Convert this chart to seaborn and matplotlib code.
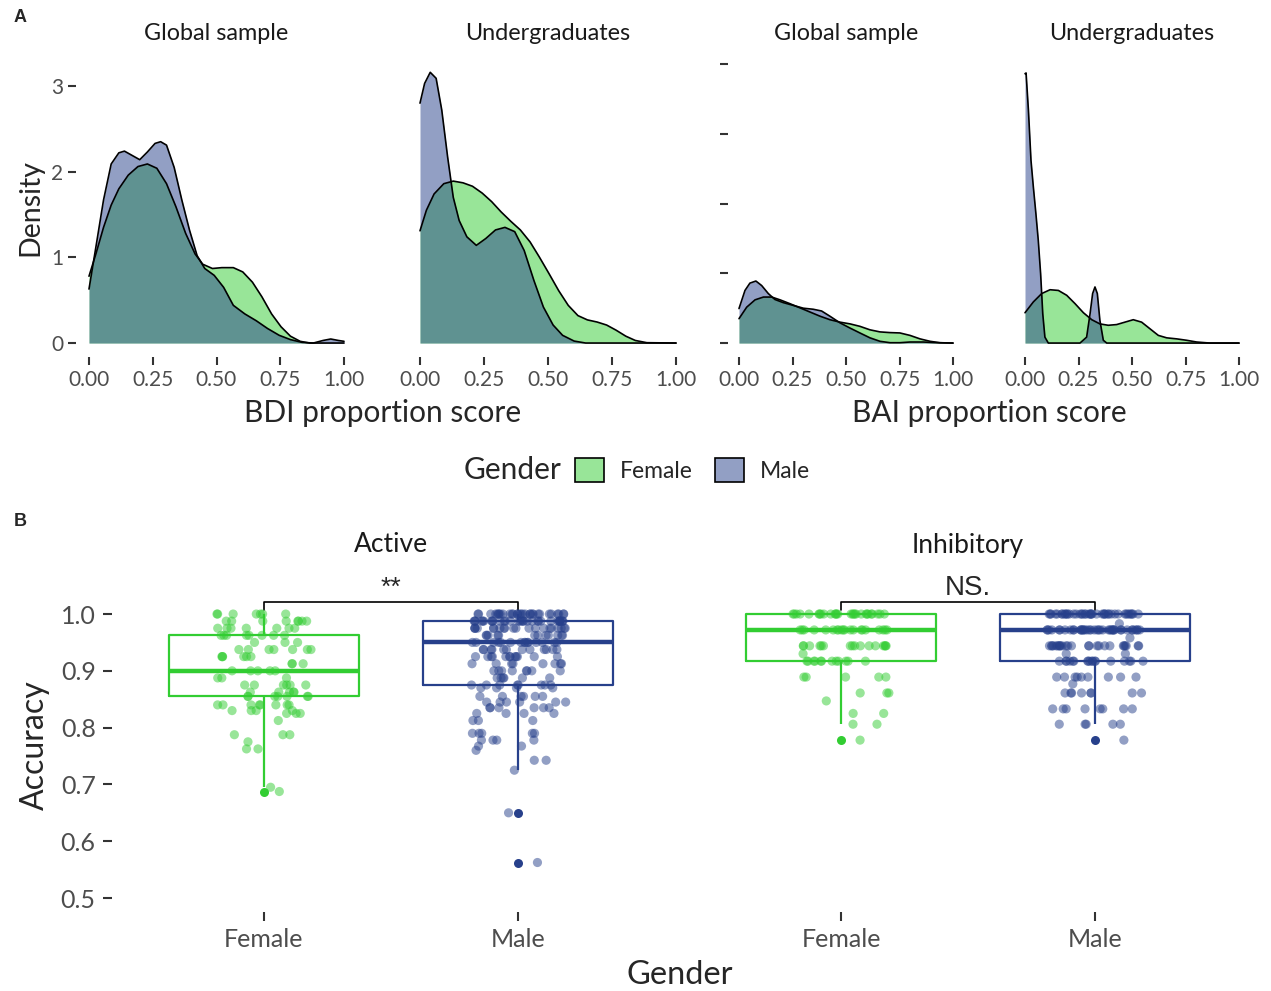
import numpy as np
import pandas as pd
import matplotlib
matplotlib.use("Agg")
import matplotlib.pyplot as plt
from matplotlib.patches import Patch
import seaborn as sns

# ---------------- Panel A: score densities ----------------
# BDI, global sample
bdi_global_x_f = [0.0, 0.027, 0.057, 0.087, 0.117, 0.154, 0.192, 0.229, 0.266, 0.304, 0.341,
                  0.379, 0.416, 0.446, 0.484, 0.521, 0.566, 0.603, 0.641, 0.678, 0.716, 0.753,
                  0.79, 0.828, 0.865, 1.0]
bdi_global_f = [0.78, 1.04, 1.35, 1.61, 1.80, 1.96, 2.06, 2.09, 2.04, 1.86, 1.59,
                1.28, 1.04, 0.92, 0.87, 0.88, 0.88, 0.83, 0.71, 0.54, 0.34, 0.19,
                0.08, 0.02, 0.0, 0.0]
bdi_global_x_m = [0.0, 0.027, 0.057, 0.087, 0.117, 0.139, 0.169, 0.199, 0.229, 0.259, 0.281,
                  0.304, 0.334, 0.364, 0.394, 0.424, 0.454, 0.491, 0.528, 0.566, 0.611, 0.656,
                  0.7, 0.746, 0.79, 0.835, 0.88, 0.918, 0.948, 0.978, 1.0]
bdi_global_m = [0.63, 1.12, 1.67, 2.09, 2.22, 2.24, 2.19, 2.14, 2.23, 2.33, 2.35,
                2.31, 2.05, 1.67, 1.32, 1.02, 0.87, 0.79, 0.65, 0.44, 0.34, 0.26,
                0.17, 0.09, 0.04, 0.008, 0.0, 0.03, 0.047, 0.03, 0.02]

# BDI, undergraduates
bdi_ug_x_f = [0.0, 0.025, 0.055, 0.093, 0.13, 0.168, 0.205, 0.243, 0.28, 0.317, 0.355, 0.392,
              0.43, 0.467, 0.504, 0.542, 0.579, 0.617, 0.654, 0.692, 0.729, 0.766, 0.804,
              0.841, 0.886, 1.0]
bdi_ug_f = [1.31, 1.55, 1.74, 1.86, 1.89, 1.87, 1.83, 1.75, 1.65, 1.53, 1.42, 1.32,
            1.18, 1.00, 0.81, 0.61, 0.44, 0.32, 0.27, 0.245, 0.21, 0.15, 0.08,
            0.03, 0.004, 0.0]
bdi_ug_x_m = [0.0, 0.018, 0.04, 0.063, 0.085, 0.108, 0.13, 0.153, 0.183, 0.22, 0.257, 0.295,
              0.332, 0.37, 0.407, 0.445, 0.482, 0.52, 0.557, 0.602, 0.647, 1.0]
bdi_ug_m = [2.80, 3.03, 3.16, 3.09, 2.72, 2.17, 1.70, 1.43, 1.24, 1.14, 1.22, 1.32,
            1.35, 1.30, 1.08, 0.73, 0.42, 0.21, 0.09, 0.023, 0.0, 0.0]

# BAI, global sample
bai_global_x_f = [0.0, 0.036, 0.075, 0.114, 0.153, 0.192, 0.238, 0.285, 0.332, 0.379, 0.425,
                  0.472, 0.519, 0.565, 0.612, 0.659, 0.706, 0.752, 0.799, 0.846, 0.893, 0.939,
                  1.0]
bai_global_f = [0.70, 1.03, 1.24, 1.32, 1.32, 1.24, 1.13, 1.01, 0.89, 0.77, 0.67,
                0.60, 0.55, 0.48, 0.38, 0.32, 0.30, 0.29, 0.22, 0.12, 0.05, 0.01,
                0.0]
bai_global_x_m = [0.0, 0.028, 0.051, 0.079, 0.106, 0.137, 0.168, 0.207, 0.254, 0.301, 0.347,
                  0.386, 0.425, 0.472, 0.519, 0.565, 0.612, 0.659, 0.706, 0.752, 0.799, 0.861,
                  0.924, 1.0]
bai_global_m = [0.99, 1.51, 1.72, 1.78, 1.65, 1.42, 1.25, 1.16, 1.08, 1.00, 0.97,
                0.92, 0.77, 0.58, 0.43, 0.29, 0.15, 0.05, 0.01, 0.01, 0.03, 0.03,
                0.01, 0.0]

# BAI, undergraduates
bai_ug_x_f = [0.0, 0.039, 0.078, 0.117, 0.156, 0.195, 0.234, 0.273, 0.312, 0.35, 0.389,
              0.428, 0.467, 0.506, 0.545, 0.584, 0.623, 0.662, 0.709, 0.755, 0.802, 0.864,
              1.0]
bai_ug_f = [0.87, 1.18, 1.42, 1.53, 1.51, 1.37, 1.13, 0.87, 0.67, 0.55, 0.51,
            0.53, 0.60, 0.67, 0.60, 0.41, 0.22, 0.15, 0.12, 0.08, 0.03, 0.0,
            0.0]
bai_ug_x_m = [0.0, 0.005, 0.016, 0.028, 0.039, 0.051, 0.062, 0.073, 0.083, 0.093, 0.109,
              0.257, 0.288, 0.304, 0.316, 0.327, 0.338, 0.35, 0.366, 0.382, 1.0]
bai_ug_m = [7.73, 7.75, 6.68, 5.24, 4.48, 3.71, 2.95, 1.99, 0.84, 0.17, 0.0,
            0.0, 0.17, 0.84, 1.42, 1.61, 1.42, 0.65, 0.08, 0.0, 0.0]

density_ticks_bdi = [0, 1, 2, 3]
density_ticks_bai = [0, 2, 4, 6, 8]
score_ticks = [0.0, 0.25, 0.5, 0.75, 1.0]

# ---------------- Panel B: task accuracy ----------------
genders = ["Female", "Male"]

active_f_levels = [1.0, 0.9875, 0.975, 0.9625, 0.95, 0.9375, 0.925, 0.9125, 0.9, 0.8875, 0.875,
                   0.8625, 0.855, 0.84, 0.83, 0.825, 0.8125, 0.7875, 0.775, 0.7625, 0.695, 0.6875]
active_f_counts = [7, 8, 7, 8, 3, 7, 6, 3, 5, 3, 6, 5, 7, 8, 4, 3, 1, 3, 1, 2, 1, 1]

active_m_levels = [1.0, 0.9875, 0.975, 0.9625, 0.95, 0.9375, 0.925, 0.9125, 0.9, 0.8875, 0.875,
                   0.87, 0.855, 0.845, 0.835, 0.825, 0.8125, 0.79, 0.778, 0.7675, 0.76, 0.7425,
                   0.725, 0.65, 0.5625]
active_m_counts = [30, 32, 20, 12, 15, 12, 12, 8, 8, 6, 8, 4, 6, 6, 6, 4, 3, 5, 4, 2, 1, 2, 1, 1, 1]

inhib_f_levels = [1.0, 0.972, 0.944, 0.93, 0.917, 0.889, 0.861, 0.847, 0.825, 0.806, 0.778]
inhib_f_counts = [28, 20, 16, 1, 12, 5, 3, 1, 2, 2, 1]

inhib_m_levels = [1.0, 0.983, 0.972, 0.958, 0.944, 0.93, 0.917, 0.889, 0.877, 0.861, 0.833,
                  0.806, 0.778]
inhib_m_counts = [42, 1, 40, 1, 25, 2, 18, 9, 1, 8, 8, 5, 1]

accuracy_ticks = [0.5, 0.6, 0.7, 0.8, 0.9, 1.0]

# ---------------- style ----------------
sns.set_theme(style="white")
plt.rcParams["font.family"] = ["Lato", "DejaVu Sans"]

GREEN = "#32CD32"
BLUE = "#27408B"
palette = {"Female": GREEN, "Male": BLUE}
TICK_C = "#333333"
LABEL_C = "#4D4D4D"

W, H = 1271, 991
fig = plt.figure(figsize=(W / 100, H / 100), dpi=100)


def rect(l, t, r, b):
    return [l / W, 1 - b / H, (r - l) / W, (b - t) / H]


def style_axis(ax, size, tick_len=5.5, pad=4):
    for s in ax.spines.values():
        s.set_visible(False)
    ax.grid(False)
    ax.tick_params(axis="both", direction="out", length=tick_len, width=1.5, color=TICK_C,
                   labelcolor=LABEL_C, labelsize=size, pad=pad,
                   bottom=True, left=True, labelbottom=True, labelleft=True)
    ax.set_xlabel("")
    ax.set_ylabel("")


def density_panel(ax, xf, yf, xm, ym, ylim, yticks, show_ytick, show_ylabels):
    ax.fill_between(xf, yf, 0, color=GREEN, alpha=0.5, lw=0)
    ax.plot(xf, yf, color="black", lw=1.2, solid_joinstyle="round")
    ax.fill_between(xm, ym, 0, color=BLUE, alpha=0.5, lw=0)
    ax.plot(xm, ym, color="black", lw=1.2, solid_joinstyle="round")
    ax.set_xlim(-0.05, 1.05)
    ax.set_ylim(*ylim)
    style_axis(ax, 15)
    ax.set_xticks(score_ticks)
    ax.set_xticklabels([f"{t:.2f}" for t in score_ticks])
    ax.set_yticks(yticks)
    if show_ylabels:
        ax.set_yticklabels([str(t) for t in yticks])
    else:
        ax.set_yticklabels([])
    if not show_ytick:
        ax.tick_params(axis="y", left=False, labelleft=False)


tops = 58
bots = 357
bdi_ylim = (-0.163, 3.327)
bai_ylim = (-0.40, 8.18)

ax1 = fig.add_axes(rect(76.25, tops, 356.75, bots))
density_panel(ax1, bdi_global_x_f, bdi_global_f, bdi_global_x_m, bdi_global_m,
              bdi_ylim, density_ticks_bdi, True, True)
ax2 = fig.add_axes(rect(407.2, tops, 688.8, bots))
density_panel(ax2, bdi_ug_x_f, bdi_ug_f, bdi_ug_x_m, bdi_ug_m,
              bdi_ylim, density_ticks_bdi, False, False)
ax3 = fig.add_axes(rect(728.3, tops, 963.7, bots))
density_panel(ax3, bai_global_x_f, bai_global_f, bai_global_x_m, bai_global_m,
              bai_ylim, density_ticks_bai, True, False)
ax4 = fig.add_axes(rect(1014.3, tops, 1249.7, bots))
density_panel(ax4, bai_ug_x_f, bai_ug_f, bai_ug_x_m, bai_ug_m,
              bai_ylim, density_ticks_bai, False, False)

for ax, title in zip([ax1, ax2, ax3, ax4],
                     ["Global sample", "Undergraduates", "Global sample", "Undergraduates"]):
    bb = ax.get_position()
    fig.text(bb.x0 + bb.width / 2, 1 - 34 / H, title, ha="center", va="center",
             fontsize=16.8, color="#1A1A1A")

fig.text(30 / W, 1 - 208 / H, "Density", rotation=90, ha="center", va="center", fontsize=20.5)
fig.text(383 / W, 1 - 413 / H, "BDI proportion score", ha="center", va="center", fontsize=21.5)
fig.text(989 / W, 1 - 413 / H, "BAI proportion score", ha="center", va="center", fontsize=21.5)

# legend
fig.text(464 / W, 1 - 470 / H, "Gender", ha="left", va="center", fontsize=21.5)
handles = [Patch(facecolor=matplotlib.colors.to_rgba(GREEN, 0.5), edgecolor="black", lw=1.2),
           Patch(facecolor=matplotlib.colors.to_rgba(BLUE, 0.5), edgecolor="black", lw=1.2)]
fig.legend(handles, genders, ncol=2, loc="center left",
           bbox_to_anchor=(575 / W, 1 - 470 / H), frameon=False, fontsize=16.5,
           handlelength=1.25, handleheight=1.25, handletextpad=0.7, columnspacing=1.0,
           borderaxespad=0, borderpad=0)

# ---------------- Panel B ----------------
np.random.seed(11)


def task_panel(ax, lf, cf, lm, cm, show_y):
    df = pd.DataFrame({
        "Gender": ["Female"] * int(np.sum(cf)) + ["Male"] * int(np.sum(cm)),
        "Accuracy": np.concatenate([np.repeat(lf, cf), np.repeat(lm, cm)]),
    })
    sns.boxplot(data=df, x="Gender", y="Accuracy", hue="Gender", palette=palette,
                order=genders, hue_order=genders, fill=False, width=0.75, linewidth=1.6,
                showcaps=False, whis=1.5, legend=False, ax=ax,
                flierprops=dict(marker="o", markersize=6.5),
                medianprops=dict(linewidth=3.2))
    for line in ax.lines:
        xd = np.asarray(line.get_xdata(), dtype=float)
        if line.get_marker() not in (None, "None", "") and xd.size:
            c = GREEN if xd.mean() < 0.5 else BLUE
            line.set_markerfacecolor(c)
            line.set_markeredgecolor(c)
            line.set_markeredgewidth(0)
    sns.stripplot(data=df, x="Gender", y="Accuracy", hue="Gender", palette=palette,
                  order=genders, hue_order=genders, jitter=0.19, size=6.6, alpha=0.5,
                  linewidth=0, legend=False, ax=ax)
    ax.set_xlim(-0.6, 1.6)
    ax.set_ylim(0.475, 1.08)
    style_axis(ax, 18, tick_len=6.5, pad=5)
    ax.set_xticks([0, 1])
    ax.set_xticklabels(genders)
    if show_y:
        ax.set_yticks(accuracy_ticks)
        ax.set_yticklabels([f"{t:.1f}" for t in accuracy_ticks])
    else:
        ax.set_yticks([])
        ax.tick_params(axis="y", left=False)


axA = fig.add_axes(rect(111.6, 568.6, 670.4, 912.2))
task_panel(axA, active_f_levels, active_f_counts, active_m_levels, active_m_counts, True)
axI = fig.add_axes(rect(688.6, 568.6, 1247.4, 912.2))
task_panel(axI, inhib_f_levels, inhib_f_counts, inhib_m_levels, inhib_m_counts, False)

for ax, title, sig, fsz, ty in [(axA, "Active", "**", 19, 1.046), (axI, "Inhibitory", "NS.", 20, 1.046)]:
    ax.plot([0, 0, 1, 1], [1.007, 1.021, 1.021, 1.007], color="black", lw=1.2, clip_on=False)
    ax.text(0.5, ty, sig, ha="center", va="center", fontsize=fsz,
            family=["Liberation Sans", "DejaVu Sans"])
    bb = ax.get_position()
    fig.text(bb.x0 + bb.width / 2, 1 - 545 / H, title, ha="center", va="center",
             fontsize=19, color="#1A1A1A")

fig.text(35 / W, 1 - 745 / H, "Accuracy", rotation=90, ha="center", va="center", fontsize=23)
fig.text(680 / W, 1 - 975 / H, "Gender", ha="center", va="center", fontsize=23.5)

fig.text(20 / W, 1 - 18 / H, "A", ha="center", va="center", fontsize=13, weight="bold",
         family=["Liberation Sans", "DejaVu Sans"])
fig.text(20 / W, 1 - 522 / H, "B", ha="center", va="center", fontsize=13, weight="bold",
         family=["Liberation Sans", "DejaVu Sans"])

fig.savefig("out.png", dpi=100, facecolor="white")
